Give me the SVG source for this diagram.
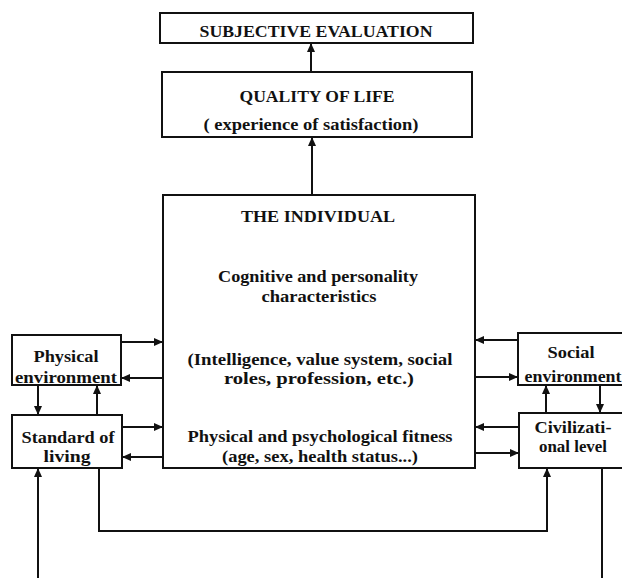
<svg xmlns="http://www.w3.org/2000/svg" width="622" height="578" viewBox="0 0 622 578">
<style>
.box{fill:#fff;stroke:#111;stroke-width:2}
.t{font-family:"Liberation Serif","Times New Roman",serif;font-weight:bold;font-size:17px;fill:#111;text-anchor:middle}
.c{fill:none;stroke:#111;stroke-width:2}
</style>
<defs>
<marker id="ah" markerUnits="userSpaceOnUse" markerWidth="9" markerHeight="8" refX="8" refY="4" orient="auto">
<path d="M0,0 L9,4 L0,8 z" fill="#111"/>
</marker>
</defs>
<rect width="622" height="578" fill="#fff"/>
<g id="connectors">
<line class="c" x1="311" y1="72" x2="311" y2="44" marker-end="url(#ah)"/>
<line class="c" x1="312" y1="195" x2="312" y2="138" marker-end="url(#ah)"/>
<line class="c" x1="121" y1="342" x2="162" y2="342" marker-end="url(#ah)"/>
<line class="c" x1="163" y1="378" x2="122" y2="378" marker-end="url(#ah)"/>
<line class="c" x1="38" y1="385" x2="38" y2="414" marker-end="url(#ah)"/>
<line class="c" x1="97" y1="415" x2="97" y2="386" marker-end="url(#ah)"/>
<line class="c" x1="122" y1="427" x2="162" y2="427" marker-end="url(#ah)"/>
<line class="c" x1="163" y1="457" x2="123" y2="457" marker-end="url(#ah)"/>
<line class="c" x1="38" y1="580" x2="38" y2="469" marker-end="url(#ah)"/>
<path class="c" d="M99,468 V531 H547 V469" marker-end="url(#ah)"/>
<line class="c" x1="518" y1="340" x2="476" y2="340" marker-end="url(#ah)"/>
<line class="c" x1="475" y1="377" x2="517" y2="377" marker-end="url(#ah)"/>
<line class="c" x1="546" y1="413" x2="546" y2="386" marker-end="url(#ah)"/>
<line class="c" x1="600" y1="385" x2="600" y2="412" marker-end="url(#ah)"/>
<line class="c" x1="519" y1="427" x2="476" y2="427" marker-end="url(#ah)"/>
<line class="c" x1="475" y1="453" x2="518" y2="453" marker-end="url(#ah)"/>
<line class="c" x1="602" y1="468" x2="602" y2="580"/>
</g>
<g id="subjective">
<rect class="box" x="160" y="13" width="313" height="30"/>
<text class="t" x="316" y="37" textLength="233" lengthAdjust="spacingAndGlyphs">SUBJECTIVE EVALUATION</text>
</g>
<g id="quality">
<rect class="box" x="162" y="72" width="310" height="65"/>
<text class="t" x="317" y="102" textLength="155" lengthAdjust="spacingAndGlyphs">QUALITY OF LIFE</text>
<text class="t" x="311" y="130" textLength="215" lengthAdjust="spacingAndGlyphs">( experience of satisfaction)</text>
</g>
<g id="individual">
<rect class="box" x="163" y="195" width="312" height="273"/>
<text class="t" x="318" y="222" textLength="154" lengthAdjust="spacingAndGlyphs">THE INDIVIDUAL</text>
<text class="t" x="318" y="282" textLength="200" lengthAdjust="spacingAndGlyphs">Cognitive and personality</text>
<text class="t" x="319" y="302" textLength="115" lengthAdjust="spacingAndGlyphs">characteristics</text>
<text class="t" x="320" y="365" textLength="265" lengthAdjust="spacingAndGlyphs">(Intelligence, value system, social</text>
<text class="t" x="319" y="384" textLength="190" lengthAdjust="spacingAndGlyphs">roles, profession, etc.)</text>
<text class="t" x="320" y="442" textLength="265" lengthAdjust="spacingAndGlyphs">Physical and psychological fitness</text>
<text class="t" x="320" y="462" textLength="196" lengthAdjust="spacingAndGlyphs">(age, sex, health status...)</text>
</g>
<g id="physical">
<rect class="box" x="12" y="335" width="109" height="50"/>
<text class="t" x="66" y="362" textLength="65" lengthAdjust="spacingAndGlyphs">Physical</text>
<text class="t" x="66" y="383" textLength="102" lengthAdjust="spacingAndGlyphs">environment</text>
</g>
<g id="standard">
<rect class="box" x="12" y="415" width="110" height="53"/>
<text class="t" x="68" y="443" textLength="93" lengthAdjust="spacingAndGlyphs">Standard of</text>
<text class="t" x="67" y="462" textLength="47" lengthAdjust="spacingAndGlyphs">living</text>
</g>
<g id="social">
<rect class="box" x="518" y="333" width="110" height="52"/>
<text class="t" x="571" y="358" textLength="47" lengthAdjust="spacingAndGlyphs">Social</text>
<text class="t" x="573" y="382" textLength="97" lengthAdjust="spacingAndGlyphs">environment</text>
</g>
<g id="civilizational">
<rect class="box" x="519" y="413" width="110" height="55"/>
<text class="t" x="573" y="433" textLength="77" lengthAdjust="spacingAndGlyphs">Civilizati-</text>
<text class="t" x="573" y="452" textLength="68" lengthAdjust="spacingAndGlyphs">onal level</text>
</g>
</svg>
